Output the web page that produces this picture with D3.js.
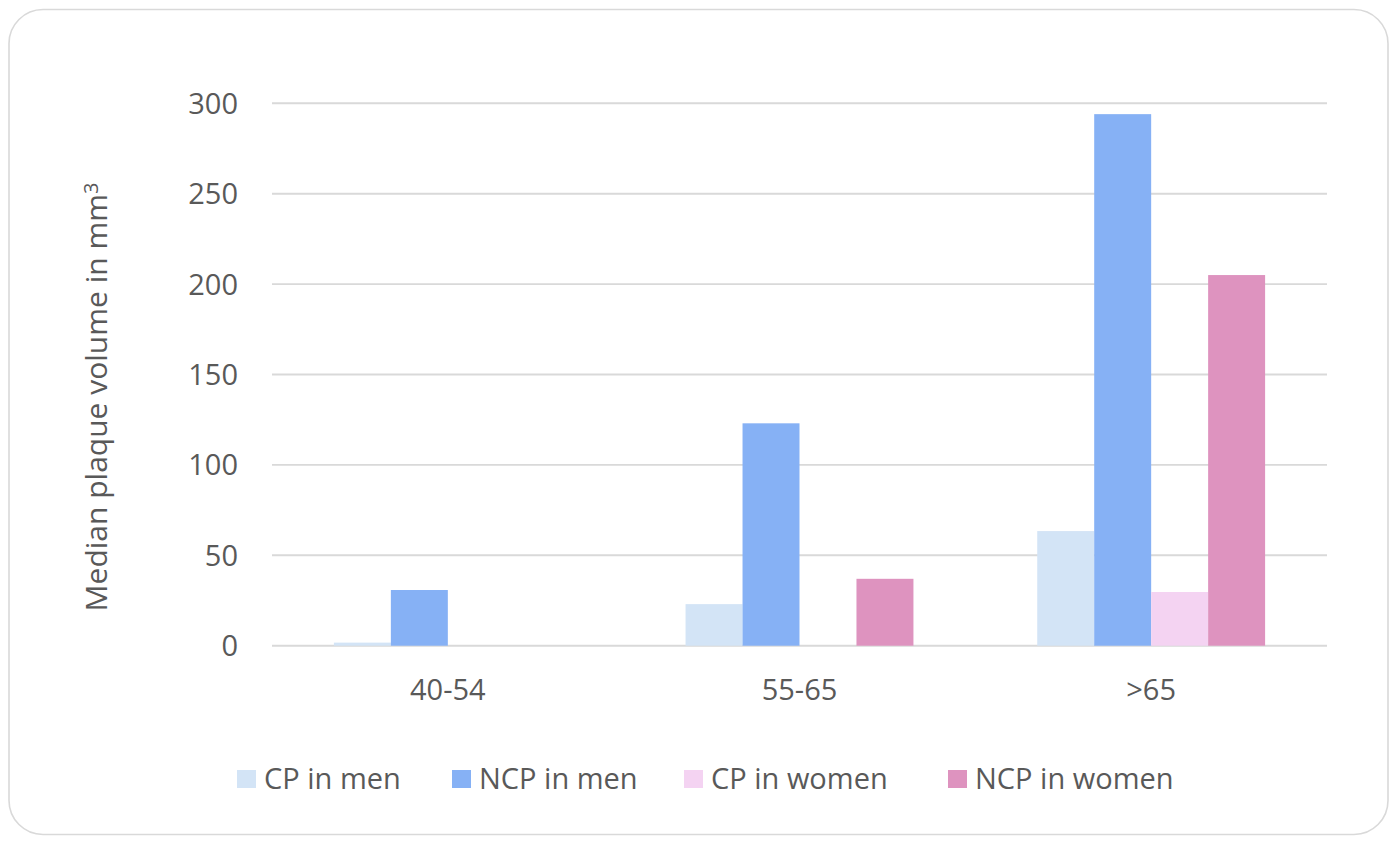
<!DOCTYPE html>
<html>
<head>
<meta charset="utf-8">
<script src="https://cdn.jsdelivr.net/npm/d3@7"></script>
<style>
  body { margin: 0; background: #fff; }
  svg text { font-family: "Open Sans", sans-serif; fill: #595959; }
</style>
</head>
<body>
<div id="chart"></div>
<script>
// chart data
const categories = ['40-54', '55-65', '>65'];
const seriesNames = ['CP in men', 'NCP in men', 'CP in women', 'NCP in women'];
const cpMen = [1.7, 23, 63.4];
const ncpMen = [30.8, 123, 294];
const cpWomen = [0, 0, 29.7];
const ncpWomen = [0, 37, 205];
const yTicks = [0, 50, 100, 150, 200, 250, 300];
const colors = ['#d3e4f6', '#86b1f5', '#f4d3f2', '#de93bf'];

const series = [cpMen, ncpMen, cpWomen, ncpWomen];

const config = {
    width: 1397,
    height: 850,
    left: 272,
    right: 1327,
    top: 103.3,
    bottom: 645.7
};

const svg = d3.select('#chart')
    .append('svg')
    .attr('width', config.width)
    .attr('height', config.height);

// outer frame
svg.append('rect')
    .attr('x', 9)
    .attr('y', 9.5)
    .attr('width', 1379)
    .attr('height', 825)
    .attr('rx', 34)
    .attr('fill', '#fff')
    .attr('stroke', '#d9d9d9')
    .attr('stroke-width', 1.6);

const x = d3.scaleBand()
    .domain(categories)
    .range([config.left, config.right])
    .padding(0);

const inner = d3.scaleBand()
    .domain(seriesNames)
    .range([0, x.bandwidth() * 0.648]);

const y = d3.scaleLinear()
    .domain([0, 300])
    .range([config.bottom, config.top]);

// gridlines
svg.append('g')
    .attr('class', 'grid')
    .selectAll('line')
    .data(yTicks)
    .join('line')
    .attr('x1', config.left)
    .attr('x2', config.right)
    .attr('y1', d => y(d))
    .attr('y2', d => y(d))
    .attr('stroke', '#d9d9d9')
    .attr('stroke-width', 1.9);

// y tick labels
svg.append('g')
    .selectAll('text')
    .data(yTicks)
    .join('text')
    .attr('x', 238)
    .attr('y', d => y(d))
    .attr('dy', '0.36em')
    .attr('text-anchor', 'end')
    .style('font-size', '29px')
    .text(d => d);

// bars
const groupOffset = (x.bandwidth() - inner.range()[1]) / 2;
const groups = svg.append('g')
    .selectAll('g')
    .data(categories)
    .join('g')
    .attr('transform', d => `translate(${x(d) + groupOffset},0)`);

groups.selectAll('rect')
    .data((d, i) => seriesNames.map((s, j) => ({ name: s, value: series[j][i], color: colors[j] })))
    .join('rect')
    .attr('x', d => inner(d.name))
    .attr('width', inner.bandwidth())
    .attr('y', d => y(d.value))
    .attr('height', d => y(0) - y(d.value))
    .attr('fill', d => d.color);

// category labels
svg.append('g')
    .selectAll('text')
    .data(categories)
    .join('text')
    .attr('x', d => x(d) + x.bandwidth() / 2)
    .attr('y', 700)
    .attr('text-anchor', 'middle')
    .style('font-size', '29px')
    .text(d => d);

// y axis title
const title = svg.append('text')
    .attr('transform', 'translate(107,397) rotate(-90)')
    .attr('text-anchor', 'middle')
    .style('font-size', '30px');
title.append('tspan').text('Median plaque volume in mm');
title.append('tspan').attr('dy', '-0.45em').style('font-size', '20px').text('3');

// legend
const legendX = [237, 452, 684, 948];
const legend = svg.append('g')
    .selectAll('g')
    .data(seriesNames)
    .join('g')
    .attr('transform', (d, i) => `translate(${legendX[i]},770)`);

legend.append('rect')
    .attr('width', 19)
    .attr('height', 18)
    .attr('fill', (d, i) => colors[i]);

legend.append('text')
    .attr('x', 27)
    .attr('y', 9)
    .attr('dy', '0.36em')
    .style('font-size', '29px')
    .text(d => d);
</script>
</body>
</html>
